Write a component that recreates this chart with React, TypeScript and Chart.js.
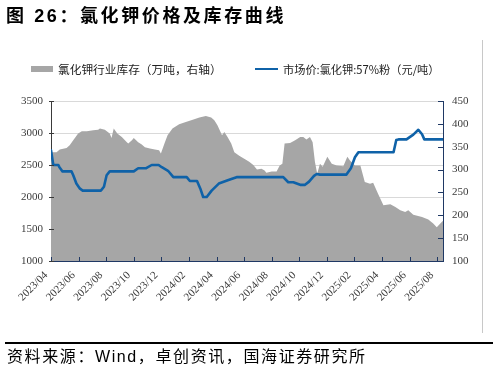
import React, { useEffect, useRef } from 'react';
import { Chart, registerables } from 'chart.js';

Chart.register(...registerables);

const titleText = '图 26：氯化钾价格及库存曲线';
const inventoryLabel = '氯化钾行业库存（万吨，右轴）';
const priceLabel = '市场价:氯化钾:57%粉（元/吨）';
const sourceText = '资料来源：Wind，卓创资讯，国海证券研究所';

const xTickLabels = [
  '2023/04', '2023/06', '2023/08', '2023/10', '2023/12', '2024/02', '2024/04', '2024/06',
  '2024/08', '2024/10', '2024/12', '2025/02', '2025/04', '2025/06', '2025/08',
];
const xStartDate = '2023-04-01';
const xEndDate = '2025-08-14';

const inventoryDates = [
  '2023-04-01', '2023-04-13', '2023-04-20', '2023-05-05', '2023-05-12', '2023-05-20', '2023-05-31',
  '2023-06-08', '2023-06-19', '2023-07-03', '2023-07-14', '2023-07-18', '2023-07-29', '2023-08-09',
  '2023-08-13', '2023-08-18', '2023-08-26', '2023-09-05', '2023-09-16', '2023-09-19', '2023-09-27',
  '2023-10-01', '2023-10-11', '2023-10-19', '2023-10-26', '2023-11-06', '2023-11-17', '2023-11-26',
  '2023-11-30', '2023-12-08', '2023-12-15', '2023-12-26', '2024-01-10', '2024-01-25', '2024-02-09',
  '2024-02-23', '2024-03-08', '2024-03-20', '2024-03-27', '2024-04-03', '2024-04-13', '2024-04-18',
  '2024-04-25', '2024-05-03', '2024-05-10', '2024-05-21', '2024-06-04', '2024-06-12', '2024-06-21',
  '2024-06-29', '2024-07-09', '2024-07-16', '2024-07-20', '2024-08-01', '2024-08-12', '2024-08-19',
  '2024-08-25', '2024-08-30', '2024-09-11', '2024-09-22', '2024-10-03', '2024-10-10', '2024-10-17',
  '2024-10-25', '2024-10-31', '2024-11-05', '2024-11-10', '2024-11-16', '2024-11-22', '2024-12-02',
  '2024-12-12', '2024-12-23', '2025-01-07', '2025-01-16', '2025-01-22', '2025-02-02', '2025-02-13',
  '2025-02-22', '2025-03-05', '2025-03-12', '2025-03-23', '2025-04-04', '2025-04-19', '2025-04-30',
  '2025-05-11', '2025-05-22', '2025-05-29', '2025-06-09', '2025-06-28', '2025-07-12', '2025-07-23',
  '2025-07-31', '2025-08-08', '2025-08-15',
];
const inventoryValues = [
  338, 338, 344, 347, 353, 364, 379,
  384, 384, 386, 387, 390, 387, 379,
  369, 390, 379, 371, 360, 357, 364,
  369, 360, 355, 349, 346, 344, 342,
  335, 357, 375, 390, 399, 404, 409,
  414, 417, 414, 408, 397, 375, 382,
  371, 357, 338, 330, 322, 317, 310,
  300, 302, 298, 293, 296, 296, 309,
  313, 357, 358, 364, 371, 371, 366,
  371, 360, 317, 291, 313, 306, 328,
  313, 309, 307, 328, 320, 309, 309,
  273, 269, 271, 247, 222, 224, 218,
  211, 207, 211, 201, 196, 191, 182,
  174, 182, 189,
];

const priceDates = [
  '2023-04-01', '2023-04-06', '2023-04-17', '2023-04-19', '2023-04-26', '2023-05-16', '2023-05-20',
  '2023-05-27', '2023-06-04', '2023-06-10', '2023-07-20', '2023-07-27', '2023-08-02', '2023-08-09',
  '2023-10-01', '2023-10-11', '2023-10-29', '2023-11-10', '2023-11-25', '2023-12-02', '2023-12-16',
  '2023-12-28', '2024-01-27', '2024-02-03', '2024-02-18', '2024-02-25', '2024-03-02', '2024-03-10',
  '2024-03-21', '2024-04-06', '2024-04-27', '2024-05-15', '2024-08-27', '2024-09-07', '2024-09-18',
  '2024-10-03', '2024-10-14', '2024-10-23', '2024-11-03', '2024-11-09', '2024-11-16', '2025-01-14',
  '2025-01-24', '2025-02-02', '2025-02-09', '2025-04-26', '2025-05-02', '2025-05-07', '2025-05-25',
  '2025-06-09', '2025-06-20', '2025-06-28', '2025-07-03', '2025-08-15',
];
const priceValues = [
  2730, 2500, 2500, 2470, 2400, 2400, 2340,
  2210, 2130, 2100, 2100, 2160, 2340, 2400,
  2400, 2450, 2450, 2500, 2500, 2465, 2410,
  2310, 2310, 2250, 2250, 2130, 2000, 2000,
  2100, 2210, 2265, 2310, 2310, 2230, 2230,
  2190, 2190, 2240, 2330, 2360, 2350, 2350,
  2450, 2620, 2700, 2700, 2890, 2900, 2900,
  2975, 3050, 2980, 2900, 2900,
];

const leftMin = 1000;
const leftMax = 3500;
const leftStep = 500;
const rightMin = 100;
const rightMax = 450;
const rightStep = 50;

const NAVY = '#1f3864';
const AXIS_DARK = '#3a3a3a';
const GRAY_FILL = '#a6a6a6';
const BLUE = '#0f62a8';
const TICK_FONT = '"Liberation Serif", "Times New Roman", serif';
const CJK_FONT = '"Noto Sans CJK SC", "Noto Sans", sans-serif';

function monthOffset(d: string): number {
  const [y, m, day] = d.split('-').map(Number);
  const dim = new Date(y, m, 0).getDate();
  return (y - 2023) * 12 + (m - 4) + (day - 1) / dim;
}

const inwardTicks = {
  id: 'inwardTicks',
  afterDraw(chart: any) {
    const { ctx, chartArea, scales } = chart;
    ctx.save();
    ctx.lineWidth = 1;
    ctx.strokeStyle = NAVY;
    ctx.beginPath();
    for (const t of scales.x.ticks) {
      const px = Math.round(scales.x.getPixelForValue(t.value)) + 0.5;
      ctx.moveTo(px, chartArea.bottom);
      ctx.lineTo(px, chartArea.bottom - 4);
    }
    for (const t of scales.y2.ticks) {
      const py = Math.round(scales.y2.getPixelForValue(t.value)) + 0.5;
      ctx.moveTo(chartArea.right, py);
      ctx.lineTo(chartArea.right - 5, py);
    }
    ctx.stroke();
    ctx.strokeStyle = AXIS_DARK;
    ctx.beginPath();
    for (const t of scales.y.ticks) {
      const py = Math.round(scales.y.getPixelForValue(t.value)) + 0.5;
      ctx.moveTo(chartArea.left - 2, py);
      ctx.lineTo(chartArea.left + 3, py);
    }
    ctx.stroke();
    ctx.restore();
  },
};

export default function App() {
  const canvasRef = useRef<HTMLCanvasElement | null>(null);

  useEffect(() => {
    if (!canvasRef.current) return;
    const inventoryData = inventoryDates.map((d, i) => ({ x: monthOffset(d), y: inventoryValues[i] }));
    const priceData = priceDates.map((d, i) => ({ x: monthOffset(d), y: priceValues[i] }));
    const chart = new Chart(canvasRef.current, {
      type: 'line',
      data: {
        datasets: [
          {
            label: inventoryLabel,
            data: inventoryData,
            yAxisID: 'y2',
            fill: 'start',
            backgroundColor: GRAY_FILL,
            borderWidth: 0,
            borderColor: GRAY_FILL,
            pointRadius: 0,
            tension: 0,
            order: 2,
          },
          {
            label: priceLabel,
            data: priceData,
            yAxisID: 'y',
            fill: false,
            borderColor: BLUE,
            borderWidth: 2.6,
            borderJoinStyle: 'round',
            borderCapStyle: 'round',
            pointRadius: 0,
            tension: 0,
            order: 1,
          },
        ],
      } as any,
      options: {
        responsive: false,
        animation: false,
        events: [],
        layout: { padding: { left: 0, right: 0, top: 101, bottom: 0 } },
        plugins: { legend: { display: false }, tooltip: { enabled: false }, title: { display: false } },
        scales: {
          x: {
            type: 'linear',
            min: monthOffset(xStartDate),
            max: monthOffset(xEndDate),
            grid: { display: true, drawOnChartArea: false, drawTicks: false },
            border: { display: true, color: NAVY, width: 1 },
            afterBuildTicks: (scale: any) => {
              scale.ticks = xTickLabels.map((l) => ({ value: monthOffset(l.replace('/', '-') + '-01') }));
            },
            afterFit: (scale: any) => {
              scale.height = 111;
            },
            ticks: {
              autoSkip: false,
              maxRotation: 45,
              minRotation: 45,
              padding: 8,
              labelOffset: -5,
              color: AXIS_DARK,
              font: { family: TICK_FONT, size: 11 },
              callback: (_v: any, i: number) => xTickLabels[i],
            },
          },
          y: {
            type: 'linear',
            position: 'left',
            min: leftMin,
            max: leftMax,
            grid: { color: '#d9d9d9', lineWidth: 1, drawTicks: false },
            border: { display: true, color: AXIS_DARK, width: 1 },
            afterFit: (scale: any) => {
              scale.width = 51;
            },
            ticks: {
              stepSize: leftStep,
              padding: 8,
              color: AXIS_DARK,
              font: { family: TICK_FONT, size: 11 },
              callback: (v: any) => String(v),
            },
          },
          y2: {
            type: 'linear',
            position: 'right',
            min: rightMin,
            max: rightMax,
            grid: { drawOnChartArea: false, drawTicks: false },
            border: { display: true, color: NAVY, width: 1 },
            afterFit: (scale: any) => {
              scale.width = 55;
            },
            ticks: {
              stepSize: rightStep,
              padding: 9,
              color: AXIS_DARK,
              font: { family: TICK_FONT, size: 11 },
              callback: (v: any) => String(v),
            },
          },
        },
      } as any,
      plugins: [inwardTicks],
    });
    return () => chart.destroy();
  }, []);

  return (
    <div style={{ position: 'absolute', left: 0, top: 0, width: 498, height: 372, background: '#fff', overflow: 'hidden' }}>
      <canvas ref={canvasRef} width={498} height={372} style={{ position: 'absolute', left: 0, top: 0 }} />
      <div
        style={{
          position: 'absolute', left: 6, top: 6, height: 20, lineHeight: '20px', fontSize: 18,
          fontWeight: 'bold', letterSpacing: 2.6, whiteSpace: 'nowrap', color: '#000',
          fontFamily: '"Liberation Sans", "Noto Sans CJK SC", sans-serif',
        }}
      >
        {titleText}
      </div>
      <div style={{ position: 'absolute', left: 31, top: 66, width: 22, height: 6, background: GRAY_FILL }} />
      <div
        style={{
          position: 'absolute', left: 58, top: 62, lineHeight: '14px', fontSize: 11.7, whiteSpace: 'nowrap',
          color: '#222', fontFamily: CJK_FONT,
        }}
      >
        {inventoryLabel}
      </div>
      <div style={{ position: 'absolute', left: 255, top: 67.5, width: 23, height: 2.6, background: BLUE }} />
      <div
        style={{
          position: 'absolute', left: 283, top: 62, lineHeight: '14px', fontSize: 11.2, whiteSpace: 'nowrap',
          color: '#222', fontFamily: CJK_FONT,
        }}
      >
        {priceLabel}
      </div>
      <div style={{ position: 'absolute', left: 482, top: 40, width: 1, height: 293, background: '#c8c8c8' }} />
      <div style={{ position: 'absolute', left: 5, top: 342, width: 488, height: 1.5, background: '#000' }} />
      <div
        style={{
          position: 'absolute', left: 7, top: 347, lineHeight: '20px', fontSize: 16, letterSpacing: 1.6,
          whiteSpace: 'nowrap', color: '#000', fontFamily: '"Liberation Sans", "Noto Sans CJK SC", sans-serif',
        }}
      >
        {sourceText}
      </div>
    </div>
  );
}
